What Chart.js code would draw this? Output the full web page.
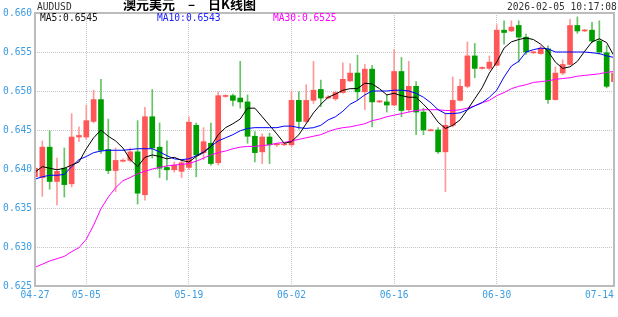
<!DOCTYPE html>
<html>
<head>
<meta charset="utf-8">
<script src="https://cdn.jsdelivr.net/npm/chart.js@4"></script>
<style>
  html, body { margin: 0; padding: 0; background: #fff; }
  #wrap { position: relative; width: 618px; height: 317px; overflow: hidden; background: #fff; }
  #wrap canvas { position: absolute; left: 0; top: 0; }
  .t { position: absolute; white-space: pre; font-family: 'DejaVu Sans Mono', monospace; font-size: 9.6px; line-height: 12px; }
  #title { position: absolute; left: 123px; top: -3px; white-space: pre; font: bold 13px 'Noto Sans CJK SC', sans-serif; line-height: 14px; word-spacing: 10px; color: #000; }
</style>
</head>
<body>
<div id="wrap">
  <canvas id="kline" width="618" height="317"></canvas>
  <span class="t" style="left:37px;top:1px;color:#333">AUDUSD</span>
  <span id="title">澳元美元 – 日K线图</span>
  <span class="t" style="left:507px;top:1px;color:#333">2026-02-05 10:17:08</span>
  <span class="t" style="left:40px;top:12px;color:#111">MA5:0.6545</span>
  <span class="t" style="left:157px;top:12px;color:#2020ff">MA10:0.6543</span>
  <span class="t" style="left:273px;top:12px;color:#ff00ff">MA30:0.6525</span>
</div>
<script>
// trading days shown on the chart (one candle each)
const dates = [
  '04-28','04-29','04-30','05-01','05-02','05-03','05-04','05-05','05-06','05-07',
  '05-08','05-09','05-10','05-11','05-12','05-13','05-14','05-15','05-16','05-17',
  '05-18','05-19','05-20','05-21','05-22','05-23','05-24','05-25','05-26','05-27',
  '05-28','05-29','05-30','05-31','06-01','06-02','06-03','06-04','06-05','06-06',
  '06-07','06-08','06-09','06-10','06-11','06-12','06-13','06-14','06-15','06-16',
  '06-17','06-18','06-19','06-20','06-21','06-22','06-23','06-24','06-25','06-26',
  '06-27','06-28','06-29','06-30','07-01','07-02','07-03','07-04','07-05','07-06',
  '07-07','07-08','07-09','07-10','07-11','07-12','07-13','07-14','07-15','07-16'
];

// x axis labels and where they sit
const tickIdx = [0, 7, 21, 35, 49, 63, 77];
const tickText = ['04-27', '05-05', '05-19', '06-02', '06-16', '06-30', '07-14'];
const gridIdx = [7, 21, 35, 49, 63];

const open = [
  0.6390, 0.6389, 0.6428, 0.6384, 0.6401, 0.6381, 0.6441, 0.6441, 0.6461, 0.6489,
  0.6425, 0.6398, 0.6410, 0.6411, 0.6422, 0.6367, 0.6467, 0.6428, 0.6402, 0.6399,
  0.6397, 0.6402, 0.6456, 0.6421, 0.6433, 0.6408, 0.6493, 0.6494, 0.6491, 0.6486,
  0.6442, 0.6422, 0.6441, 0.6431, 0.6431, 0.6431, 0.6488, 0.6461, 0.6488, 0.6502,
  0.6491, 0.6490, 0.6498, 0.6513, 0.6523, 0.6499, 0.6528, 0.6486, 0.6486, 0.6482,
  0.6525, 0.6476, 0.6506, 0.6473, 0.6449, 0.6450, 0.6422, 0.6456, 0.6488, 0.6506,
  0.6545, 0.6529, 0.6529, 0.6533, 0.6578, 0.6577, 0.6584, 0.6569, 0.6549, 0.6548,
  0.6554, 0.6489, 0.6523, 0.6534, 0.6584, 0.6577, 0.6578, 0.6564, 0.6549, 0.6512
];
const close = [
  0.6401, 0.6428, 0.6384, 0.6397, 0.6380, 0.6441, 0.6443, 0.6462, 0.6489, 0.6424,
  0.6398, 0.6411, 0.6411, 0.6422, 0.6369, 0.6467, 0.6427, 0.6401, 0.6399, 0.6405,
  0.6408, 0.6460, 0.6418, 0.6435, 0.6407, 0.6494, 0.6494, 0.6488, 0.6486, 0.6442,
  0.6421, 0.6441, 0.6431, 0.6432, 0.6432, 0.6488, 0.6461, 0.6488, 0.6501, 0.6491,
  0.6492, 0.6498, 0.6515, 0.6523, 0.6499, 0.6528, 0.6486, 0.6487, 0.6482, 0.6525,
  0.6475, 0.6506, 0.6473, 0.6450, 0.6450, 0.6422, 0.6456, 0.6488, 0.6506, 0.6545,
  0.6529, 0.6530, 0.6537, 0.6578, 0.6575, 0.6582, 0.6569, 0.6550, 0.6550, 0.6555,
  0.6489, 0.6523, 0.6534, 0.6584, 0.6577, 0.6578, 0.6564, 0.6550, 0.6506, 0.6523
];
const high = [
  0.6406, 0.6436, 0.6449, 0.6414, 0.6427, 0.6471, 0.6454, 0.6482, 0.6501, 0.6515,
  0.6464, 0.6427, 0.6413, 0.6427, 0.6462, 0.6479, 0.6502, 0.6459, 0.6436, 0.6409,
  0.6412, 0.6467, 0.6459, 0.6453, 0.6459, 0.6499, 0.6495, 0.6496, 0.6538, 0.6495,
  0.6448, 0.6445, 0.6446, 0.6433, 0.6433, 0.6500, 0.6499, 0.6508, 0.6538, 0.6514,
  0.6494, 0.6500, 0.6536, 0.6535, 0.6546, 0.6534, 0.6533, 0.6488, 0.6495, 0.6553,
  0.6543, 0.6538, 0.6512, 0.6478, 0.6451, 0.6453, 0.6472, 0.6518, 0.6515, 0.6563,
  0.6561, 0.6531, 0.6545, 0.6585, 0.6590, 0.6590, 0.6590, 0.6573, 0.6551, 0.6558,
  0.6558, 0.6531, 0.6540, 0.6592, 0.6595, 0.6579, 0.6588, 0.6590, 0.6558, 0.6535
];
const low = [
  0.6382, 0.6365, 0.6374, 0.6354, 0.6364, 0.6377, 0.6435, 0.6438, 0.6459, 0.6420,
  0.6394, 0.6371, 0.6409, 0.6409, 0.6355, 0.6360, 0.6414, 0.6389, 0.6386, 0.6396,
  0.6389, 0.6399, 0.6390, 0.6412, 0.6405, 0.6405, 0.6492, 0.6481, 0.6478, 0.6433,
  0.6409, 0.6407, 0.6407, 0.6429, 0.6430, 0.6429, 0.6451, 0.6459, 0.6484, 0.6480,
  0.6490, 0.6488, 0.6497, 0.6512, 0.6488, 0.6476, 0.6454, 0.6485, 0.6473, 0.6481,
  0.6467, 0.6473, 0.6444, 0.6444, 0.6449, 0.6420, 0.6371, 0.6454, 0.6487, 0.6504,
  0.6517, 0.6528, 0.6527, 0.6532, 0.6560, 0.6576, 0.6537, 0.6547, 0.6548, 0.6547,
  0.6484, 0.6488, 0.6521, 0.6533, 0.6574, 0.6576, 0.6562, 0.6547, 0.6504, 0.6509
];

// moving averages as drawn on the chart
const ma5 = [
  0.6396, 0.6403, 0.6401, 0.6399, 0.6401, 0.6405, 0.6409, 0.6426, 0.6440, 0.6450,
  0.6442, 0.6436, 0.6427, 0.6412, 0.6403, 0.6415, 0.6418, 0.6416, 0.6413, 0.6415,
  0.6411, 0.6409, 0.6416, 0.6421, 0.6429, 0.6444, 0.6453, 0.6458, 0.6464, 0.6478,
  0.6478, 0.6467, 0.6456, 0.6445, 0.6433, 0.6435, 0.6444, 0.6458, 0.6472, 0.6483,
  0.6492, 0.6496, 0.6501, 0.6503, 0.6503, 0.6510, 0.6509, 0.6503, 0.6495, 0.6497,
  0.6494, 0.6492, 0.6492, 0.6483, 0.6473, 0.6460, 0.6452, 0.6456, 0.6463, 0.6476,
  0.6490, 0.6504, 0.6523, 0.6537, 0.6555, 0.6563, 0.6566, 0.6568, 0.6566, 0.6560,
  0.6551, 0.6537, 0.6529, 0.6531, 0.6538, 0.6551, 0.6563, 0.6567, 0.6562, 0.6545
];
const ma10 = [
  0.6387, 0.6390, 0.6392, 0.6392, 0.6393, 0.6403, 0.6412, 0.6416, 0.6421, 0.6423,
  0.6424, 0.6424, 0.6424, 0.6425, 0.6426, 0.6426, 0.6426, 0.6422, 0.6417, 0.6413,
  0.6412, 0.6413, 0.6417, 0.6422, 0.6429, 0.6436, 0.6440, 0.6444, 0.6449, 0.6452,
  0.6453, 0.6453, 0.6453, 0.6453, 0.6455, 0.6455, 0.6453, 0.6452, 0.6453, 0.6456,
  0.6463, 0.6467, 0.6474, 0.6483, 0.6488, 0.6495, 0.6500, 0.6500, 0.6500, 0.6501,
  0.6501, 0.6500, 0.6497, 0.6492, 0.6485, 0.6476, 0.6471, 0.6471, 0.6472, 0.6476,
  0.6481, 0.6485, 0.6492, 0.6501, 0.6518, 0.6532, 0.6538, 0.6550, 0.6553, 0.6555,
  0.6554, 0.6550, 0.6550, 0.6550, 0.6550, 0.6550, 0.6549, 0.6548, 0.6545, 0.6543
];
const ma30 = [
  0.6274, 0.6278, 0.6282, 0.6285, 0.6288, 0.6294, 0.6299, 0.6310, 0.6328, 0.6349,
  0.6364, 0.6376, 0.6385, 0.6389, 0.6394, 0.6397, 0.6400, 0.6402, 0.6404, 0.6405,
  0.6406, 0.6407, 0.6410, 0.6414, 0.6418, 0.6421, 0.6423, 0.6426, 0.6428, 0.6429,
  0.6429, 0.6430, 0.6431, 0.6433, 0.6434, 0.6436, 0.6438, 0.6440, 0.6442, 0.6444,
  0.6448, 0.6451, 0.6453, 0.6454, 0.6456, 0.6458, 0.6462, 0.6464, 0.6467, 0.6469,
  0.6471, 0.6473, 0.6475, 0.6476, 0.6476, 0.6476, 0.6475, 0.6475, 0.6476, 0.6478,
  0.6481, 0.6485, 0.6488, 0.6494, 0.6498, 0.6503, 0.6506, 0.6508, 0.6511, 0.6512,
  0.6513, 0.6515, 0.6516, 0.6517, 0.6519, 0.6520, 0.6521, 0.6522, 0.6524, 0.6525
];

const axisBlue = '#3d9de2';
const axisFont = { family: "'DejaVu Sans Mono', monospace", size: 9.6 };

// red = up day, green = down day
const isUp = close.map((c, i) => c >= open[i]);

// grey frame round the plot area
const framePlugin = {
  id: 'frame',
  afterDraw(chart) {
    const { ctx, chartArea } = chart;
    ctx.save();
    ctx.strokeStyle = '#bcbcbc';
    ctx.lineWidth = 2;
    ctx.strokeRect(chartArea.left, chartArea.top, chartArea.right - chartArea.left, chartArea.bottom - chartArea.top);
    ctx.restore();
  }
};

new Chart(document.getElementById('kline'), {
  type: 'bar',
  data: {
    labels: dates,
    datasets: [
      { type: 'line', label: 'MA5', data: ma5, borderColor: '#000000', borderWidth: 1, pointRadius: 0, fill: false, order: 0 },
      { type: 'line', label: 'MA10', data: ma10, borderColor: '#0000ff', borderWidth: 1, pointRadius: 0, fill: false, order: 1 },
      { type: 'line', label: 'MA30', data: ma30, borderColor: '#ff00ff', borderWidth: 1, pointRadius: 0, fill: false, order: 2 },
      {
        label: 'body',
        data: dates.map((d, i) => [open[i], close[i]]),
        backgroundColor: isUp.map(u => u ? '#ff5757' : '#009f00'),
        barThickness: 5,
        minBarLength: 1,
        grouped: false,
        order: 3
      },
      {
        label: 'wick',
        data: dates.map((d, i) => [low[i], high[i]]),
        backgroundColor: isUp.map(u => u ? '#ff9a9a' : '#66c466'),
        barThickness: 1,
        grouped: false,
        order: 4
      }
    ]
  },
  options: {
    responsive: false,
    animation: false,
    devicePixelRatio: 1,
    layout: { padding: { top: 13, right: 1, left: 0, bottom: 0 } },
    plugins: { legend: { display: false }, tooltip: { enabled: false } },
    scales: {
      x: {
        offset: false,
        grid: {
          offset: false,
          drawTicks: false,
          color: ctx => gridIdx.includes(ctx.index) ? '#c6c6c6' : 'rgba(0,0,0,0)'
        },
        border: { display: false, dash: [1, 1] },
        ticks: {
          autoSkip: false,
          maxRotation: 0,
          padding: 4,
          color: axisBlue,
          font: axisFont,
          callback: (v, i) => {
            const k = tickIdx.indexOf(i);
            return k < 0 ? '' : tickText[k];
          }
        },
        afterFit: scale => { scale.height = 31; }
      },
      y: {
        min: 0.625,
        max: 0.660,
        grid: { drawTicks: false, color: '#c6c6c6' },
        border: { display: false, dash: [1, 1] },
        ticks: {
          stepSize: 0.005,
          padding: 3,
          color: axisBlue,
          font: axisFont,
          callback: v => v.toFixed(3)
        },
        afterFit: scale => { scale.width = 35; }
      }
    }
  },
  plugins: [framePlugin]
});
</script>
</body>
</html>
